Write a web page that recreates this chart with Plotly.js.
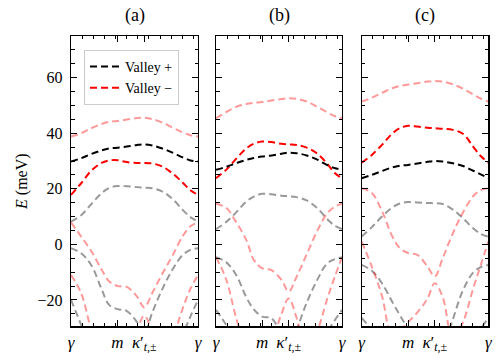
<!DOCTYPE html>
<html>
<head>
<meta charset="utf-8">
<script src="https://cdn.plot.ly/plotly-3.0.1.min.js"></script>
<style>body{margin:0;background:#fff}#chart{width:500px;height:362px}</style>
</head>
<body>
<div id="chart"></div>
<script>
// path gamma -> m -> kappa' -> gamma, as a fraction of the total length
const kPath = [0, 0.08, 0.16, 0.24, 0.30, 0.366, 0.44, 0.52, 0.577, 0.64, 0.72, 0.80, 0.88, 0.94, 1];
const kTickVals = [0, 0.366, 0.577, 1];
const kTickText = ["<i>γ</i>", "<i>m</i>", "<i>κ</i>′<sub><i>t</i>,±</sub>", "<i>γ</i>"];
const panelLabels = ["(a)", "(b)", "(c)"];

// panel (a), energies in meV
const aMinusHigh = [38.8, 40, 41.8, 43.3, 44.1, 44.4, 44.9, 45.5, 45.6, 45.1, 43.8, 42, 40.3, 39.3, 38.8];
const aPlus = [29.8, 31, 32.5, 33.8, 34.5, 34.8, 35.2, 35.8, 36, 35.6, 34.5, 33, 31.3, 30.2, 29.8];
const aMinus = [17.8, 22, 26.5, 29.3, 30.2, 30.3, 29.6, 29.3, 29.3, 29.1, 28, 25.5, 22.2, 19.5, 17.8];
const aPlusLow1 = [8.2, 10.5, 14.5, 18.4, 20.3, 21, 20.9, 20.6, 20.4, 20.2, 19, 16.3, 12.4, 9.8, 8.2];
const aMinusLow1 = [7.9, 2.8, -2.5, -9, -13.3, -15, -15.3, -18.8, -22.7, -17.5, -10.5, -4, 3, 6.5, 7.9];
const aPlusLow2 = [-1.4, -3.2, -7.5, -16, -21.8, -23.3, -24, -28, -32, -24.5, -16, -9, -3.8, -2, -1.4];
const aMinusLow2 = [-11, -17.6, -31, -42, -45, -45, -42, -31, -25.7, -31.5, -42, -34, -23, -16, -11];
const aPlusLow3 = [-20, -29, -38, -45, -48, -50, -50, -50, -50, -50, -48, -42, -32.5, -26, -20];

// panel (b)
const bMinusHigh = [45.4, 47.6, 49.5, 50.5, 50.9, 51.2, 51.8, 52.3, 52.6, 52.4, 51.4, 49.6, 47.6, 46.2, 45.4];
const bPlus = [26.8, 27.9, 29.2, 30.4, 31.1, 31.6, 32, 32.6, 33, 32.8, 32, 30.6, 28.6, 27.5, 26.8];
const bMinus = [23.8, 26.8, 30.8, 34.5, 36.2, 37, 36.8, 36.2, 36, 35.8, 34.8, 32.8, 29.2, 25.8, 23.8];
const bPlusLow1 = [5.5, 8, 11.5, 15.4, 17.2, 18.2, 18, 17.5, 17.3, 17, 15.8, 13.2, 9.2, 6.8, 5.5];
const bMinusLow1 = [14.6, 13.2, 8, 1.6, -5.6, -8.6, -9.3, -12.8, -17, -11.6, -3.6, 4.5, 11, 13.5, 14.6];
const bPlusLow2 = [-4.6, -6.4, -11, -19, -23.4, -26, -26.6, -33, -40, -31, -21, -13.1, -7, -5.4, -4.6];
const bMinusLow2 = [-4.6, -12.5, -26.5, -38, -45, -45, -36, -25, -19.5, -26.5, -40, -32, -20, -12, -4.6];
const bPlusLow3 = [-23.6, -29, -36, -45, -48, -50, -50, -50, -50, -50, -48, -42, -32, -27.5, -23.6];

// panel (c)
const cMinusHigh = [51.4, 52.8, 54.5, 56.2, 57, 57.5, 58, 58.6, 58.8, 58.6, 57.6, 56, 54, 52.5, 51.4];
const cPlus = [23.8, 25, 26.4, 27.7, 28.3, 28.6, 29.1, 29.7, 30, 29.8, 29.2, 28.2, 26.5, 25.2, 23.8];
const cMinus = [29.4, 32.2, 35.8, 39.8, 41.8, 42.7, 42.4, 42, 41.8, 41.6, 41.2, 39.8, 35.2, 31.8, 29.4];
const cPlusLow1 = [2.8, 6.2, 10, 13.2, 14.7, 15.2, 15.1, 14.9, 14.8, 14.5, 12.5, 9.4, 5.8, 3.8, 2.8];
const cMinusLow1 = [20.2, 18.5, 12, 3, -1.3, -3.1, -3.8, -8, -11.6, -5, 4, 11.5, 17.3, 19.5, 20.2];
const cPlusLow2 = [-7.4, -9.5, -14, -20.6, -25.4, -30.5, -38, -45, -45, -38, -27, -16.5, -10.2, -8.2, -7.4];
const cMinusLow2 = [1, -8, -18.5, -33, -31, -28, -24.5, -19.5, -14, -19, -34, -28, -16, -7.5, 1];
const cPlusLow3 = [-26.5, -31, -38, -45, -48, -50, -50, -50, -50, -50, -48, -42, -35, -30.5, -26.5];

const plusColor = "#000000";
const minusColor = "#ff0000";
const plusFaded = "rgba(0,0,0,0.4)";
const minusFaded = "rgba(255,0,0,0.4)";

const panels = [
  { faded: [[aMinusHigh, minusFaded], [aPlusLow1, plusFaded], [aMinusLow1, minusFaded], [aPlusLow2, plusFaded], [aMinusLow2, minusFaded], [aPlusLow3, plusFaded]], minus: aMinus, plus: aPlus },
  { faded: [[bMinusHigh, minusFaded], [bPlusLow1, plusFaded], [bMinusLow1, minusFaded], [bPlusLow2, plusFaded], [bMinusLow2, minusFaded], [bPlusLow3, plusFaded]], minus: bMinus, plus: bPlus },
  { faded: [[cMinusHigh, minusFaded], [cPlusLow1, plusFaded], [cMinusLow1, minusFaded], [cPlusLow2, plusFaded], [cMinusLow2, minusFaded], [cPlusLow3, plusFaded]], minus: cMinus, plus: cPlus },
];

const font = "'Liberation Serif', serif";
const dash = "7px,4px";
const traces = [];

panels.forEach((p, i) => {
  const xa = i === 0 ? "x" : "x" + (i + 1);
  const ya = i === 0 ? "y" : "y" + (i + 1);
  p.faded.forEach(([e, color]) => {
    traces.push({
      x: kPath, y: e, xaxis: xa, yaxis: ya, type: "scatter", mode: "lines",
      line: { color: color, width: 2, dash: dash, shape: "spline" },
      showlegend: false, hoverinfo: "skip",
    });
  });
  traces.push({
    x: kPath, y: p.minus, xaxis: xa, yaxis: ya, type: "scatter", mode: "lines",
    line: { color: minusColor, width: 2, dash: dash, shape: "spline" },
    name: "Valley −", showlegend: i === 0, legendrank: 2,
  });
  traces.push({
    x: kPath, y: p.plus, xaxis: xa, yaxis: ya, type: "scatter", mode: "lines",
    line: { color: plusColor, width: 2, dash: dash, shape: "spline" },
    name: "Valley +", showlegend: i === 0, legendrank: 1,
  });
});

const xDomains = [[0.142, 0.396], [0.432, 0.684], [0.7234, 0.9766]];
const yDomain = [0.0986, 0.9006];

const layout = {
  width: 500,
  height: 362,
  margin: { l: 0, r: 0, t: 0, b: 0 },
  paper_bgcolor: "#ffffff",
  plot_bgcolor: "#ffffff",
  font: { family: font, size: 14, color: "#000" },
  showlegend: true,
  legend: {
    x: 0.168, y: 0.862, xanchor: "left", yanchor: "top",
    bgcolor: "#ffffff", bordercolor: "#cccccc", borderwidth: 1,
    font: { family: font, size: 14 },
    tracegroupgap: 0,
    entrywidth: 64, entrywidthmode: "pixels",
  },
  annotations: panelLabels.map((t, i) => ({
    text: t, xref: "paper", yref: "paper",
    x: (xDomains[i][0] + xDomains[i][1]) / 2, y: 0.956,
    xanchor: "center", yanchor: "middle", showarrow: false,
    font: { family: font, size: 18 },
  })),
};

xDomains.forEach((d, i) => {
  const sx = i === 0 ? "" : String(i + 1);
  layout["xaxis" + sx] = {
    domain: d, anchor: "y" + sx, range: [0, 1],
    tickmode: "array", tickvals: kTickVals, ticktext: kTickText,
    ticks: "inside", ticklen: 6, tickwidth: 1, tickcolor: "#000",
    showline: true, linecolor: "#000", linewidth: 1.2, mirror: "allticks",
    showgrid: false, zeroline: false,
    minor: { tick0: 0, dtick: 0.0877, ticks: "inside", ticklen: 3.5, tickcolor: "#000", showgrid: false },
    tickfont: { family: font, size: 17 },
  };
  const yAxis = {
    domain: yDomain, anchor: "x" + sx, range: [-29.5, 75],
    tickmode: "linear", tick0: 0, dtick: 20,
    ticks: "inside", ticklen: 6, tickwidth: 1, tickcolor: "#000",
    showline: true, linecolor: "#000", linewidth: 1.2, mirror: "allticks",
    showgrid: false, zeroline: false, showticklabels: i === 0,
    minor: { tick0: 0, dtick: 5, ticks: "inside", ticklen: 3.5, tickcolor: "#000", showgrid: false },
    tickfont: { family: font, size: 16 },
    ticklabelstandoff: 4,
  };
  if (i === 0) {
    yAxis.title = { text: "<i>E</i> (meV)", font: { family: font, size: 16 }, standoff: 6 };
  }
  layout["yaxis" + sx] = yAxis;
});

Plotly.newPlot("chart", traces, layout, { displayModeBar: false, staticPlot: true });
</script>
</body>
</html>
